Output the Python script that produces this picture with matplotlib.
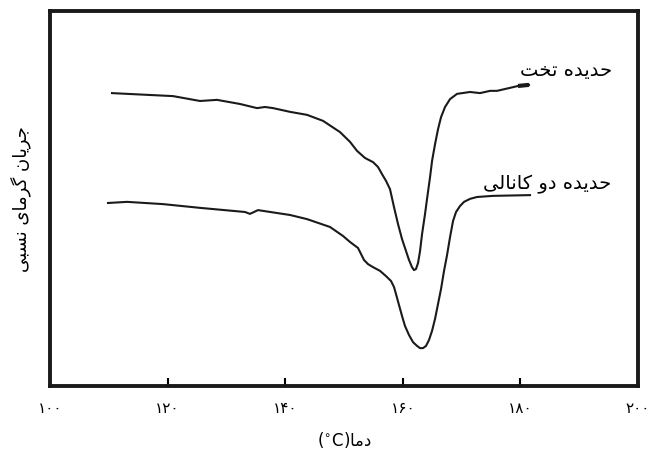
"""DSC curves of the two dies (relative heat flow vs temperature)."""

import matplotlib
matplotlib.use('Agg')
import matplotlib.pyplot as plt

# Persian labels, written in shaped presentation forms and visual order
# (matplotlib has no Arabic shaping / bidi of its own)
def visual(s):
    return s[::-1]

label_flat = visual('\uFEA3\uFEAA\uFBFE\uFEAA\uFEE9 \uFE97\uFEA8\uFE96')            # حدیده تخت
label_twin = visual('\uFEA3\uFEAA\uFBFE\uFEAA\uFEE9 \uFEA9\uFEED '
                    '\uFB90\uFE8E\uFEE7\uFE8E\uFEDF\uFBFD')                         # حدیده دو کانالی
ylabel = visual('\uFE9F\uFEAE\uFBFE\uFE8E\uFEE5 \uFB94\uFEAE\uFEE3\uFE8E\uFBFC '
                '\uFEE7\uFEB4\uFE92\uFBFD')                                          # جریان گرمای نسبی
xlabel = '($^{\\circ}$C)' + visual('\uFEA9\uFEE3\uFE8E')                             # دما(°C)

# data
ticks = [100, 120, 140, 160, 180, 200]
tick_labels = ['۱۰۰', '۱۲۰', '۱۴۰', '۱۶۰', '۱۸۰', '۲۰۰']

t_flat = [110.54, 113.10, 117.01, 120.92, 125.51, 128.40, 132.31, 135.20, 136.56, 137.93,
          140.82, 143.71, 146.43, 149.32, 151.02, 152.21, 153.57, 154.93, 155.78, 156.46,
          157.14, 157.82, 158.50, 159.18, 159.86, 160.54, 161.05, 161.56, 161.90, 162.24,
          162.59, 162.93, 163.27, 163.78, 164.12, 164.63, 164.97, 165.48, 165.99, 166.50,
          167.18, 168.03, 169.22, 171.43, 173.13, 174.83, 176.02, 178.23, 179.59, 181.46]
h_flat = [7.81, 7.79, 7.76, 7.73, 7.60, 7.63, 7.52, 7.41, 7.44, 7.41,
          7.31, 7.23, 7.07, 6.77, 6.51, 6.27, 6.08, 5.97, 5.84, 5.65,
          5.47, 5.25, 4.77, 4.32, 3.92, 3.60, 3.36, 3.17, 3.09, 3.12,
          3.28, 3.60, 4.05, 4.59, 4.99, 5.57, 6.00, 6.45, 6.85, 7.17,
          7.44, 7.65, 7.79, 7.84, 7.81, 7.87, 7.87, 7.95, 8.00, 8.03]

t_twin = [109.86, 113.10, 119.22, 125.51, 133.16, 134.01, 135.37, 140.82, 143.71, 147.62,
          149.83, 151.02, 152.38, 152.89, 153.40, 154.08, 154.93, 156.12, 157.14, 157.99,
          158.50, 158.84, 159.35, 159.86, 160.37, 161.05, 161.73, 162.41, 162.93, 163.44,
          163.95, 164.46, 164.97, 165.48, 165.99, 166.50, 167.01, 167.52, 168.03, 168.54,
          169.05, 169.73, 170.41, 171.43, 172.62, 175.34, 181.63]
h_twin = [4.88, 4.91, 4.85, 4.75, 4.64, 4.59, 4.69, 4.56, 4.45, 4.24,
          4.00, 3.84, 3.68, 3.52, 3.36, 3.25, 3.17, 3.07, 2.93, 2.80,
          2.64, 2.45, 2.16, 1.87, 1.60, 1.36, 1.17, 1.07, 1.01, 1.01,
          1.07, 1.23, 1.47, 1.79, 2.19, 2.59, 3.07, 3.49, 3.97, 4.40,
          4.64, 4.80, 4.91, 4.99, 5.04, 5.07, 5.09]

plt.rcParams['font.family'] = ['DejaVu Sans']
plt.rcParams['mathtext.fontset'] = 'dejavusans'

fig = plt.figure(figsize=(6.6, 4.52), dpi=100)
ax = fig.add_axes([0.0758, 0.1438, 0.8909, 0.8297])

ax.plot(t_flat, h_flat, color='#1a1a1a', lw=1.5, solid_joinstyle='round')
ax.plot(t_flat[-2:], h_flat[-2:], color='#1a1a1a', lw=3, solid_capstyle='butt')
ax.plot(t_twin, h_twin, color='#1a1a1a', lw=1.5, solid_joinstyle='round')

ax.text(187.8, 8.45, label_flat, ha='center', va='center', fontsize=14)
ax.text(184.5, 5.39, label_twin, ha='center', va='center', fontsize=14)

ax.set_xlim(100, 200)
ax.set_ylim(0, 10)
ax.set_xticks(ticks, tick_labels, fontsize=11)
ax.set_yticks([])
ax.tick_params(axis='x', direction='in', length=6, width=1.5, pad=10)
for s in ax.spines.values():
    s.set_linewidth(2.8)
    s.set_color('#1a1a1a')

ax.set_xlabel(xlabel, fontsize=12, labelpad=10)
ax.set_ylabel(ylabel, fontsize=13, labelpad=14)

fig.savefig('out.png', dpi=100)
